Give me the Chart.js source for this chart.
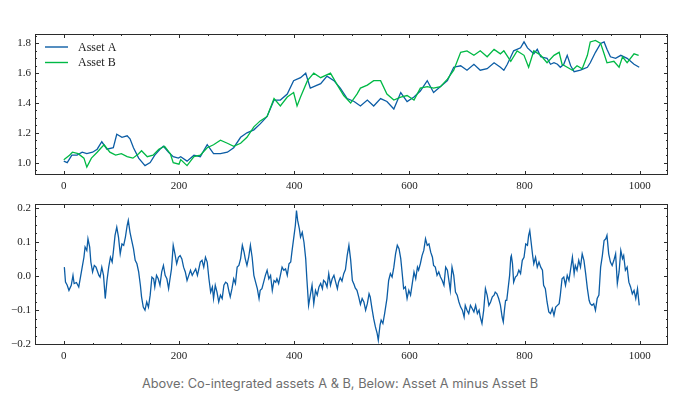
<!DOCTYPE html>
<html>
<head>
<meta charset="utf-8">
<script src="https://cdn.jsdelivr.net/npm/chart.js@4.4.1/dist/chart.umd.min.js"></script>
<style>
  body { margin: 0; background: #fff; }
  #wrap { position: relative; width: 680px; height: 403px; }
  canvas { display: block; }
  #caption {
    position: absolute; left: 0; top: 376px; width: 680px;
    text-align: center; font-family: Inter, "Open Sans", sans-serif;
    font-size: 12.8px; color: #6e6e6e;
  }
</style>
</head>
<body>
<div id="wrap">
  <canvas id="pairChart" width="680" height="190"></canvas>
  <canvas id="spreadChart" width="680" height="170"></canvas>
  <div id="caption">Above: Co-integrated assets A &amp; B, Below: Asset A minus Asset B</div>
</div>
<script>
// Asset A price
const assetAX = [0, 6, 14, 23, 32, 40, 50, 58, 66, 75, 86, 92, 101, 110, 115, 121, 130, 141, 150, 158,
  167, 173, 182, 190, 199, 203, 214, 226, 237, 249, 260, 272, 284, 295, 307, 318, 330, 341, 353, 365,
  376, 388, 399, 411, 420, 428, 446, 457, 469, 480, 492, 504, 515, 527, 538, 550, 561, 573, 585, 596,
  608, 619, 631, 642, 654, 666, 677, 689, 700, 712, 723, 735, 747, 758, 764, 770, 781, 793, 799, 805,
  816, 822, 828, 839, 845, 851, 857, 862, 868, 874, 880, 886, 897, 909, 914, 923, 932, 938, 943, 949,
  958, 967, 978, 990, 999];
const assetA = [1.01, 1.00, 1.05, 1.05, 1.07, 1.06, 1.07, 1.09, 1.14, 1.09, 1.10, 1.19, 1.17, 1.18, 1.16, 1.10, 1.03, 0.98, 1.00, 1.05,
  1.09, 1.11, 1.07, 1.04, 1.03, 1.04, 1.01, 1.05, 1.04, 1.12, 1.06, 1.06, 1.07, 1.10, 1.17, 1.20, 1.22, 1.26, 1.31, 1.42,
  1.42, 1.46, 1.55, 1.57, 1.60, 1.50, 1.53, 1.58, 1.55, 1.50, 1.43, 1.41, 1.38, 1.42, 1.38, 1.43, 1.41, 1.36, 1.47, 1.41,
  1.44, 1.48, 1.55, 1.47, 1.51, 1.55, 1.64, 1.65, 1.62, 1.66, 1.62, 1.63, 1.67, 1.64, 1.62, 1.66, 1.75, 1.77, 1.81, 1.77,
  1.73, 1.76, 1.71, 1.70, 1.66, 1.67, 1.66, 1.64, 1.66, 1.72, 1.65, 1.61, 1.62, 1.64, 1.67, 1.74, 1.80, 1.81, 1.76, 1.71,
  1.70, 1.72, 1.70, 1.66, 1.64];

// Asset B price
const assetBX = [0, 10, 15, 25, 35, 40, 48, 58, 65, 70, 80, 90, 100, 110, 120, 130, 135, 145, 155, 165,
  175, 185, 190, 200, 203, 214, 226, 237, 249, 260, 272, 284, 295, 307, 318, 330, 341, 353, 365, 376,
  388, 399, 405, 411, 423, 434, 446, 463, 475, 486, 498, 509, 515, 527, 538, 550, 561, 573, 585, 596,
  608, 619, 631, 642, 654, 666, 677, 689, 700, 712, 723, 735, 747, 758, 764, 776, 787, 799, 807, 816,
  828, 839, 851, 860, 865, 874, 883, 891, 900, 909, 914, 923, 932, 938, 943, 955, 964, 970, 978, 990,
  998];
const assetB = [1.02, 1.05, 1.07, 1.06, 1.03, 0.97, 1.03, 1.07, 1.10, 1.12, 1.07, 1.05, 1.06, 1.04, 1.03, 1.06, 1.08, 1.04, 1.05, 1.09,
  1.11, 1.06, 1.00, 0.99, 1.02, 0.98, 1.04, 1.05, 1.10, 1.12, 1.15, 1.13, 1.11, 1.13, 1.17, 1.24, 1.28, 1.31, 1.43, 1.38,
  1.44, 1.47, 1.38, 1.44, 1.55, 1.60, 1.57, 1.60, 1.52, 1.45, 1.40, 1.46, 1.50, 1.52, 1.55, 1.55, 1.46, 1.42, 1.44, 1.45,
  1.42, 1.50, 1.51, 1.50, 1.51, 1.56, 1.62, 1.74, 1.75, 1.72, 1.75, 1.71, 1.76, 1.73, 1.75, 1.68, 1.75, 1.72, 1.64, 1.75,
  1.72, 1.67, 1.72, 1.74, 1.66, 1.64, 1.62, 1.65, 1.63, 1.72, 1.81, 1.82, 1.80, 1.73, 1.67, 1.68, 1.64, 1.71, 1.67, 1.73,
  1.72];

// Asset A minus Asset B
const spreadX = [1, 3, 6, 9, 13, 16, 18, 22, 26, 29, 32, 35, 37, 40, 42, 45, 47, 50, 53, 56,
  61, 63, 66, 69, 72, 75, 78, 81, 84, 86, 89, 92, 95, 98, 101, 104, 107, 110, 112, 115,
  118, 121, 124, 127, 130, 133, 135, 138, 141, 144, 147, 150, 153, 156, 158, 161, 164, 167, 170, 173,
  176, 179, 182, 184, 187, 190, 193, 196, 199, 202, 205, 208, 211, 214, 217, 220, 223, 226, 229, 232,
  234, 237, 240, 243, 246, 249, 252, 255, 258, 260, 263, 266, 269, 272, 275, 278, 281, 284, 287, 289,
  292, 295, 298, 301, 304, 307, 310, 313, 315, 318, 321, 324, 327, 330, 333, 336, 339, 341, 344, 347,
  350, 353, 356, 359, 362, 365, 368, 370, 373, 376, 379, 382, 385, 388, 391, 394, 396, 399, 402, 404,
  406, 409, 411, 414, 417, 420, 422, 425, 428, 431, 434, 437, 440, 443, 446, 449, 451, 454, 457, 460,
  463, 466, 469, 472, 475, 477, 480, 483, 486, 489, 492, 495, 498, 501, 504, 506, 509, 512, 515, 518,
  521, 524, 527, 530, 532, 535, 538, 541, 544, 546, 549, 551, 554, 557, 561, 564, 567, 570, 573, 576,
  579, 582, 585, 587, 590, 593, 596, 599, 602, 605, 608, 611, 614, 616, 619, 622, 625, 628, 631, 634,
  637, 640, 642, 645, 648, 651, 654, 657, 660, 663, 666, 669, 671, 674, 677, 680, 683, 686, 689, 692,
  695, 697, 700, 703, 706, 709, 712, 715, 718, 721, 723, 726, 729, 732, 735, 738, 741, 744, 747, 749,
  752, 755, 758, 761, 763, 765, 767, 769, 771, 774, 776, 777, 779, 781, 784, 787, 790, 793, 796, 799,
  802, 805, 807, 809, 811, 814, 816, 819, 822, 825, 828, 831, 833, 836, 839, 842, 845, 848, 851, 854,
  857, 860, 862, 865, 868, 871, 874, 877, 880, 883, 886, 888, 891, 894, 897, 900, 903, 906, 909, 912,
  914, 917, 920, 923, 926, 929, 932, 935, 938, 941, 943, 946, 949, 952, 955, 958, 961, 964, 967, 970,
  972, 975, 978, 981, 984, 987, 990, 993, 996, 999];
const spread = [0.026, -0.018, -0.027, -0.042, -0.027, 0.002, -0.022, -0.019, -0.032, -0.003, 0.026, 0.055, 0.085, 0.075, 0.109, 0.085, 0.041, 0.012, 0.031, 0.026,
  0.002, -0.003, 0.026, 0.002, -0.066, -0.013, 0.026, 0.055, 0.041, 0.070, 0.119, 0.143, 0.114, 0.065, 0.094, 0.090, 0.114, 0.148, 0.163, 0.128,
  0.104, 0.080, 0.046, 0.036, 0.012, -0.027, -0.061, -0.091, -0.100, -0.076, -0.091, -0.056, -0.003, -0.008, -0.032, 0.002, -0.008, -0.027, 0.012, 0.031,
  0.002, -0.008, -0.037, -0.013, 0.021, 0.090, 0.065, 0.036, 0.055, 0.060, 0.050, 0.026, 0.012, -0.013, 0.002, 0.017, 0.002, 0.012, 0.021, 0.002,
  0.017, 0.041, 0.046, 0.026, 0.055, 0.041, -0.008, -0.047, -0.032, -0.066, -0.027, -0.047, -0.076, -0.056, -0.066, -0.027, -0.018, -0.022, -0.047, -0.061,
  -0.037, -0.008, -0.022, 0.026, 0.031, 0.051, 0.090, 0.070, 0.051, 0.031, 0.055, 0.090, 0.055, 0.002, -0.018, -0.037, -0.066, -0.042, -0.037, -0.018,
  0.002, 0.017, -0.008, 0.002, -0.042, -0.013, -0.018, -0.008, -0.022, 0.002, 0.026, 0.017, 0.021, 0.002, 0.036, 0.041, 0.070, 0.109, 0.148, 0.192,
  0.163, 0.138, 0.114, 0.128, 0.099, 0.051, -0.008, -0.086, -0.056, -0.027, -0.081, -0.042, -0.056, -0.032, -0.022, -0.037, -0.013, -0.018, -0.032, 0.007,
  -0.027, -0.008, 0.002, -0.018, -0.037, -0.018, -0.005, -0.015, 0.007, 0.019, 0.060, 0.090, 0.048, -0.013, -0.025, -0.035, -0.042, -0.061, -0.083, -0.066,
  -0.076, -0.100, -0.081, -0.052, -0.061, -0.095, -0.125, -0.149, -0.168, -0.188, -0.144, -0.129, -0.139, -0.110, -0.066, -0.013, 0.007, -0.003, 0.026, 0.065,
  0.090, 0.080, 0.051, 0.017, -0.037, -0.032, -0.066, -0.042, -0.056, -0.022, 0.012, -0.008, 0.026, 0.017, 0.036, 0.060, 0.075, 0.109, 0.090, 0.094,
  0.070, 0.055, 0.031, 0.026, 0.002, 0.012, -0.003, -0.013, -0.027, 0.026, 0.017, -0.018, -0.042, 0.026, 0.002, -0.047, -0.056, -0.076, -0.091, -0.100,
  -0.120, -0.086, -0.100, -0.110, -0.086, -0.095, -0.105, -0.086, -0.110, -0.100, -0.120, -0.139, -0.100, -0.037, -0.056, -0.086, -0.076, -0.061, -0.056, -0.047,
  -0.052, -0.066, -0.085, -0.120, -0.134, -0.100, -0.071, -0.071, -0.042, 0.002, 0.055, 0.060, 0.036, -0.018, -0.003, 0.002, 0.017, 0.007, 0.046, 0.055,
  0.094, 0.090, 0.119, 0.133, 0.104, 0.060, 0.036, 0.055, 0.026, 0.041, 0.026, 0.017, -0.027, -0.037, -0.076, -0.105, -0.110, -0.095, -0.115, -0.091,
  -0.086, -0.081, -0.056, -0.008, -0.003, -0.027, 0.002, -0.013, 0.021, 0.055, 0.007, 0.031, 0.017, 0.046, 0.026, 0.065, 0.046, 0.007, -0.037, -0.071,
  -0.081, -0.086, -0.081, -0.100, -0.066, -0.056, 0.026, 0.060, 0.104, 0.109, 0.119, 0.065, 0.041, 0.031, 0.046, 0.065, -0.022, 0.012, 0.075, 0.051,
  0.060, 0.017, 0.026, -0.018, -0.032, -0.052, -0.042, -0.066, -0.037, -0.086];

const BLUE = '#0C5DA5';
const GREEN = '#00B945';
const SERIF = '"Liberation Serif", "DejaVu Serif", serif';

function toPoints(xs, ys) {
  return xs.map((x, i) => ({ x: x, y: ys[i] }));
}

function fmtTick(v) {
  return v.toFixed(1).replace('-', '\u2212');
}

// frame with inward ticks on all four sides (matplotlib "science" look)
const frameTicks = {
  id: 'frameTicks',
  afterDraw(chart, args, opts) {
    const { ctx, chartArea: a, scales } = chart;
    const xs = scales.x, ys = scales.y;
    ctx.save();
    ctx.strokeStyle = '#2b2b2b';
    ctx.lineWidth = 1;
    ctx.strokeRect(a.left + 0.5, a.top + 0.5, a.right - a.left - 1, a.bottom - a.top - 1);
    ctx.beginPath();
    const xMark = (v, len) => {
      const p = Math.round(xs.getPixelForValue(v)) + 0.5;
      ctx.moveTo(p, a.bottom); ctx.lineTo(p, a.bottom - len);
      ctx.moveTo(p, a.top); ctx.lineTo(p, a.top + len);
    };
    const yMark = (v, len) => {
      const p = Math.round(ys.getPixelForValue(v)) + 0.5;
      ctx.moveTo(a.left, p); ctx.lineTo(a.left + len, p);
      ctx.moveTo(a.right, p); ctx.lineTo(a.right - len, p);
    };
    xs.ticks.forEach(t => xMark(t.value, 4));
    ys.ticks.forEach(t => yMark(t.value, 4));
    for (let v = Math.ceil(xs.min / opts.xMinor) * opts.xMinor; v <= xs.max; v += opts.xMinor) {
      xMark(v, 2);
    }
    for (let v = Math.ceil(ys.min / opts.yMinor) * opts.yMinor; v <= ys.max; v += opts.yMinor) {
      yMark(v, 2);
    }
    ctx.stroke();
    ctx.restore();
  }
};

// legend drawn inside the plot, upper left, no box
const innerLegend = {
  id: 'innerLegend',
  afterDraw(chart) {
    const { ctx, chartArea: a } = chart;
    ctx.save();
    ctx.font = '12px ' + SERIF;
    ctx.textBaseline = 'middle';
    chart.data.datasets.forEach((ds, i) => {
      const y = a.top + 13 + i * 15.5;
      ctx.strokeStyle = ds.borderColor;
      ctx.lineWidth = 1.4;
      ctx.beginPath();
      ctx.moveTo(a.left + 10, y);
      ctx.lineTo(a.left + 33, y);
      ctx.stroke();
      ctx.fillStyle = '#222';
      ctx.fillText(ds.label, a.left + 43, y + 0.5);
    });
    ctx.restore();
  }
};

function axisOptions(yMin, yMax, yStep) {
  return {
    x: {
      type: 'linear',
      min: -49.95,
      max: 1048.95,
      grid: { display: false, drawTicks: false },
      border: { display: false },
      ticks: {
        stepSize: 200, includeBounds: false, padding: 5,
        color: '#222', font: { family: SERIF, size: 11 },
        maxRotation: 0,
        callback: v => String(v)
      },
      afterFit: s => { s.height = 15; }
    },
    y: {
      min: yMin,
      max: yMax,
      grid: { display: false, drawTicks: false },
      border: { display: false },
      ticks: {
        stepSize: yStep, includeBounds: false, padding: 4,
        color: '#222', font: { family: SERIF, size: 11 },
        callback: v => fmtTick(v)
      },
      afterFit: s => { s.width = 35; }
    }
  };
}

new Chart(document.getElementById('pairChart'), {
  type: 'line',
  data: {
    datasets: [
      { label: 'Asset A', data: toPoints(assetAX, assetA), borderColor: BLUE, order: 1 },
      { label: 'Asset B', data: toPoints(assetBX, assetB), borderColor: GREEN, order: 0 }
    ]
  },
  options: {
    responsive: false,
    animation: false,
    devicePixelRatio: 1,
    layout: { padding: { top: 34, right: 12, left: 0, bottom: 0 } },
    elements: { point: { radius: 0 }, line: { borderWidth: 1.3, tension: 0 } },
    plugins: { legend: { display: false }, tooltip: { enabled: false }, frameTicks: { xMinor: 50, yMinor: 0.05 } },
    scales: axisOptions(0.917, 1.863, 0.2)
  },
  plugins: [frameTicks, innerLegend]
});

new Chart(document.getElementById('spreadChart'), {
  type: 'line',
  data: {
    datasets: [
      { label: 'A - B', data: toPoints(spreadX, spread), borderColor: BLUE }
    ]
  },
  options: {
    responsive: false,
    animation: false,
    devicePixelRatio: 1,
    layout: { padding: { top: 14, right: 12, left: 0, bottom: 0 } },
    elements: { point: { radius: 0 }, line: { borderWidth: 1.3, tension: 0 } },
    plugins: { legend: { display: false }, tooltip: { enabled: false }, frameTicks: { xMinor: 50, yMinor: 0.025 } },
    scales: axisOptions(-0.202, 0.211, 0.1)
  },
  plugins: [frameTicks]
});
</script>
</body>
</html>
